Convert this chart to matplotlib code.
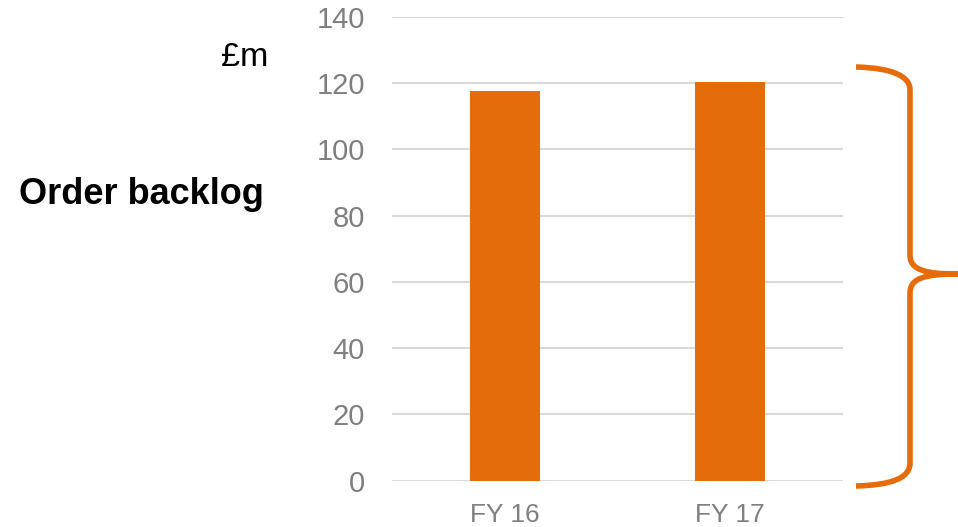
import matplotlib
matplotlib.use("Agg")
import matplotlib.pyplot as plt
from matplotlib.path import Path
from matplotlib.patches import PathPatch

plt.rcParams["font.family"] = ["Liberation Sans", "DejaVu Sans"]

# order backlog, £m
years = ["FY 16", "FY 17"]
backlog = [117.6, 120.3]
y_ticks = [0, 20, 40, 60, 80, 100, 120, 140]

ORANGE = "#E46C0A"
W, H = 958, 527

fig = plt.figure(figsize=(W / 100, H / 100), dpi=100)
ax = fig.add_axes([392 / W, 1 - 480.5 / H, (843 - 392) / W, (480.5 - 17) / H])

ax.bar(range(len(years)), backlog, width=0.31, color=ORANGE, zorder=3)
ax.set_xlim(-0.5, len(years) - 0.5)
ax.set_ylim(0, 140)
ax.set_yticks(y_ticks)
ax.set_xticks(range(len(years)))
ax.set_xticklabels(years)

ax.grid(axis="y", color="#d9d9d9", linewidth=1.5, zorder=0)
for s in ax.spines.values():
    s.set_visible(False)
ax.tick_params(axis="both", length=0, colors="#7f7f7f")
ax.tick_params(axis="y", labelsize=21, pad=19.5)
ax.tick_params(axis="x", labelsize=19, pad=16)


def px(x, y):
    return (x / W, 1 - y / H)


# curly brace to the right of the bars
verts = [
    px(856, 67),
    px(892, 68), px(910, 76), px(910, 90),
    px(910, 255),
    px(910, 270), px(925, 274), px(958, 274),
    px(925, 274), px(910, 278), px(910, 293),
    px(910, 463),
    px(910, 478), px(892, 485), px(856, 486),
]
codes = [Path.MOVETO,
         Path.CURVE4, Path.CURVE4, Path.CURVE4,
         Path.LINETO,
         Path.CURVE4, Path.CURVE4, Path.CURVE4,
         Path.CURVE4, Path.CURVE4, Path.CURVE4,
         Path.LINETO,
         Path.CURVE4, Path.CURVE4, Path.CURVE4]
brace = PathPatch(Path(verts, codes), transform=fig.transFigure, facecolor="none",
                  edgecolor=ORANGE, linewidth=4, capstyle="butt")
fig.add_artist(brace)

fig.text(*px(245, 57), "£m", fontsize=24.5, ha="center", va="center", color="black")
fig.text(*px(141, 194), "Order backlog", fontsize=26, fontweight="bold",
         ha="center", va="center", color="black")

fig.savefig("out.png", dpi=100)
